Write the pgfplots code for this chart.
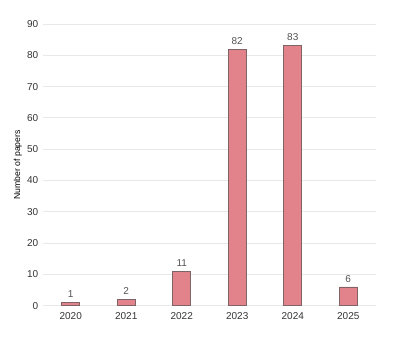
\documentclass[border=0pt]{standalone}
\usepackage{fontspec}
\setmainfont{Liberation Sans}
\usepackage{pgfplots}
\pgfplotsset{compat=1.18}
\definecolor{barfill}{HTML}{E2828A}
\definecolor{baredge}{HTML}{7E6466}
\definecolor{gridc}{HTML}{E8E8E8}
\definecolor{txt}{HTML}{333333}
\begin{document}
\begin{tikzpicture}
\begin{axis}[
    scale only axis,
    width=250pt,
    height=211.5pt,
    ymin=0, ymax=90,
    xmin=-0.5, xmax=5.5,
    ytick={0,10,...,90},
    xtick=data,
    xticklabels={2020,2021,2022,2023,2024,2025},
    axis line style={draw=none},
    major tick length=0pt,
    ymajorgrids,
    grid style={gridc, line width=0.6pt},
    ylabel={Number of papers},
    ylabel style={font=\fontsize{6.5}{7}\selectfont, text=black, yshift=-3pt},
    tick label style={font=\fontsize{7.5}{8}\selectfont, text=txt},
    xticklabel style={yshift=-1.5pt},
    /pgf/number format/assume math mode=true,
    ybar,
    bar width=13.5pt,
    nodes near coords,
    nodes near coords style={font=\fontsize{7.5}{8}\selectfont, text=txt!85},
    clip=false,
]
\addplot[fill=barfill, draw=baredge, line width=0.6pt] coordinates {
    (0,1) (1,2) (2,11) (3,82) (4,83) (5,6)
};
\end{axis}
\path (current axis.south west) ++(-32.25pt,-25.5pt) coordinate (bl);
\path (current axis.north east) ++(15.75pt,18pt) coordinate (tr);
\useasboundingbox (bl) rectangle (tr);
\end{tikzpicture}
\end{document}
